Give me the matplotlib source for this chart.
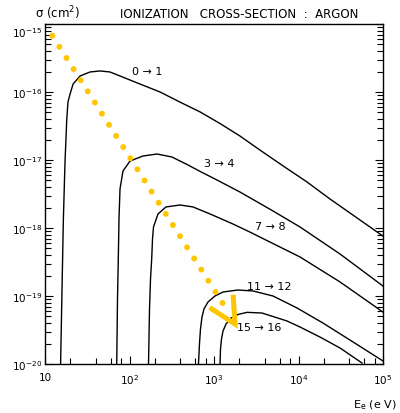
import numpy as np
import matplotlib
matplotlib.use("Agg")
import matplotlib.pyplot as plt
from matplotlib.ticker import LogLocator, NullFormatter, FixedLocator, FixedFormatter
from matplotlib.transforms import ScaledTranslation

# electron energy (eV) and cross-section (cm^2)
e_01 = [15.3, 15.9, 16.5, 17.25, 18.1, 18.7, 19.8, 21.5, 26.0, 34.1, 44.8, 58.8, 77.2,
        133, 230, 396, 683, 1178, 2031, 3500, 6555, 12610, 23590, 1e5]
s_01 = [1.0e-20, 1.27e-19, 1.36e-18, 9.35e-18, 4.0e-17, 7.1e-17, 9.35e-17, 1.31e-16, 1.72e-16,
        1.97e-16, 2.04e-16, 1.97e-16, 1.72e-16, 1.31e-16, 1.0e-16, 7.1e-17, 5.1e-17, 3.44e-17,
        2.25e-17, 1.4e-17, 8.2e-18, 4.75e-18, 2.67e-18, 7.6e-19]

e_34 = [70.6, 72.1, 73.7, 75.1, 77.2, 83.8, 101.4, 144.5, 211.5, 318, 479, 683, 1085, 2031,
        4992, 10420, 30980, 1e5]
s_34 = [1.0e-20, 9.0e-20, 3.5e-19, 1.36e-18, 3.75e-18, 6.9e-18, 9.66e-18, 1.145e-17, 1.225e-17,
        1.107e-17, 8.6e-18, 6.8e-18, 5.08e-18, 3.38e-18, 1.78e-18, 1.035e-18, 4.15e-19, 1.4e-19]

e_78 = [167.9, 172.5, 177.3, 183.1, 187.2, 192.3, 217.4, 270.4, 396, 564, 897, 1678, 2667,
        10420, 30980, 1e5]
s_78 = [1.0e-20, 6.44e-20, 1.78e-19, 3.5e-19, 6.9e-19, 1.035e-18, 1.61e-18, 2.04e-18, 2.18e-18,
        2.04e-18, 1.61e-18, 1.145e-18, 8.7e-19, 3.75e-19, 1.61e-19, 5.8e-20]

e_1112 = [655, 673, 692, 721, 761, 849, 1027, 1278, 1923, 2894, 4992, 9598, 19500, 44160, 1e5]
s_1112 = [1.0e-20, 1.97e-20, 3.27e-20, 4.91e-20, 6.44e-20, 8.16e-20, 1.0e-19, 1.145e-19,
          1.225e-19, 1.185e-19, 1.0e-19, 6.67e-20, 4.0e-20, 2.11e-20, 1.107e-20]

e_1516 = [1178, 1194, 1227, 1278, 1387, 1589, 1923, 2458, 3698, 7311, 10420, 17970, 30980, 56420]
s_1516 = [1.0e-20, 1.66e-20, 2.33e-20, 3.05e-20, 3.87e-20, 4.74e-20, 5.35e-20, 5.75e-20,
          5.62e-20, 4.29e-20, 3.5e-20, 2.49e-20, 1.72e-20, 1.035e-20]

curves = [(e_01, s_01), (e_34, s_34), (e_78, s_78), (e_1112, s_1112), (e_1516, s_1516)]
labels = ["0 → 1", "3 → 4", "7 → 8", "11 → 12", "15 → 16"]
label_e = [161, 1146, 4600, 4480, 3410]
label_s = [2.04e-16, 9.0e-18, 1.07e-18, 1.40e-19, 3.5e-20]

# yellow dotted trend and its arrow head
trend_e = [12.2, 1268]
trend_s = [6.73e-16, 7.82e-20]
head_e = [940, 1774, 1690]
head_s = [6.45e-20, 3.87e-20, 9.57e-20]

xtick_vals = [10, 1e2, 1e3, 1e4, 1e5]
xtick_text = ["10", "10$^2$", "10$^3$", "10$^4$", "10$^5$"]
ytick_vals = [1e-20, 1e-19, 1e-18, 1e-17, 1e-16, 1e-15]
ytick_text = ["10$^{-20}$", "10$^{-19}$", "10$^{-18}$", "10$^{-17}$", "10$^{-16}$", "10$^{-15}$"]

yellow = "#FFC600"

fig = plt.figure(figsize=(4, 4.14), dpi=100)
ax = fig.add_axes([45 / 400, 49 / 414, 338 / 400, 340 / 414])

for e, s in curves:
    ax.plot(e, s, color="black", lw=1.0)

for t, x, y in zip(labels, label_e, label_s):
    ax.text(x, y, t, fontsize=8, ha="center", va="center")

ax.plot(trend_e, trend_s, color=yellow, lw=4.3, linestyle=(0, (0.001, 2.21)),
        dash_capstyle="round")
ax.plot(head_e, head_s, color=yellow, lw=3.6, solid_joinstyle="miter")

ax.set_xscale("log")
ax.set_yscale("log")
ax.set_xlim(10, 1e5)
ax.set_ylim(1e-20, 1e-15)

ax.xaxis.set_major_locator(FixedLocator(xtick_vals))
ax.xaxis.set_major_formatter(FixedFormatter(xtick_text))
ax.xaxis.set_minor_locator(LogLocator(base=10, subs=[2, 4, 6, 8]))
ax.xaxis.set_minor_formatter(NullFormatter())
ax.yaxis.set_major_locator(FixedLocator(ytick_vals))
ax.yaxis.set_major_formatter(FixedFormatter(ytick_text))
ax.yaxis.set_minor_locator(LogLocator(base=10, subs=np.arange(2, 10), numticks=10))
ax.yaxis.set_minor_formatter(NullFormatter())

ax.tick_params(which="both", direction="in", top=False, right=True, labelsize=7.5, width=0.8)
ax.tick_params(which="major", length=6)
ax.tick_params(which="minor", length=4)
ax.tick_params(axis="x", pad=6)
ax.tick_params(axis="y", pad=2)
for sp in ax.spines.values():
    sp.set_linewidth(1.0)

# the top label sits a bit below its tick, as in the original
top_lab = ax.yaxis.get_major_ticks()[-1].label1
top_lab.set_transform(top_lab.get_transform() + ScaledTranslation(0, -5 / 72, fig.dpi_scale_trans))

fig.text(239 / 400, 1 - 15 / 414, "IONIZATION   CROSS-SECTION  :  ARGON", fontsize=8.5,
         ha="center", va="center")
fig.text(35 / 400, 1 - 13 / 414, "σ (cm$^2$)", fontsize=8.5, ha="left", va="center")
fig.text(397 / 400, 1 - 405 / 414, r"E$_\mathrm{e}$ (e V)", fontsize=8, ha="right",
         va="center")

fig.savefig("out.png", dpi=100)
